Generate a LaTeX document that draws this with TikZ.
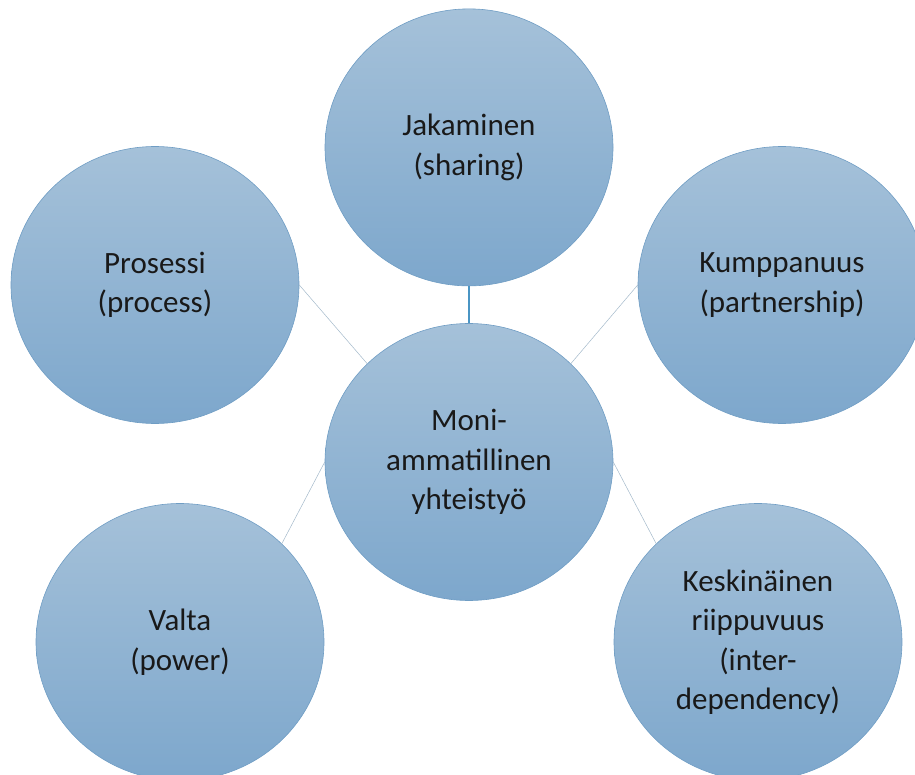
\documentclass[tikz,border=0pt]{standalone}
\usepackage{fontspec}
\setmainfont{Carlito}
\usepackage{tikz}
\usetikzlibrary{shapes.geometric, positioning}
\definecolor{bubtop}{HTML}{A5C1D9}
\definecolor{bubbot}{HTML}{7DA7CC}
\definecolor{bubedge}{HTML}{6F9DC4}
\definecolor{linkdark}{HTML}{4A95C4}
\definecolor{linklight}{HTML}{A3B9CA}
\tikzset{
bubble/.style={ellipse, draw=bubedge, line width=0.6pt, top color=bubtop, bottom color=bubbot, minimum width=288pt, minimum height=277pt, align=center, text=black!90, font=\fontsize{31}{39.5}\selectfont}, % every circle
link/.style={draw=linklight, line width=0.5pt}, % thin connector
}

\begin{document}
\begin{tikzpicture}[x=1pt, y=-1pt]
    \useasboundingbox (0,0) rectangle (915,775);
    \clip (0,0) rectangle (915,775);

      \node[bubble] (mid) at (469,462) {Moni-\\ammatillinen\\yhteistyö};
      \node[bubble, above=37pt of mid] (jak) {Jakaminen\\(sharing)};
      \node[bubble] (pros) at (155,285) {Prosessi\\(process)};
      \node[bubble] (kump) at (782,285) {Kumppanuus\\(partnership)};
      \node[bubble] (valta) at (180,642) {Valta\\(power)};
      \node[bubble] (kesk) at (758,642) {Keskinäinen\\riippuvuus\\(inter-\\dependency)};

      \draw[draw=linkdark, line width=1.2pt] (jak.south) -- (mid.north);
      \draw[link] (pros.east) -- (mid.136);
      \draw[link] (kump.west) -- (mid.44);
      \draw[link] (mid.west) -- (valta.44);
      \draw[link] (mid.east) -- (kesk.136);
    \end{tikzpicture}
\end{document}
